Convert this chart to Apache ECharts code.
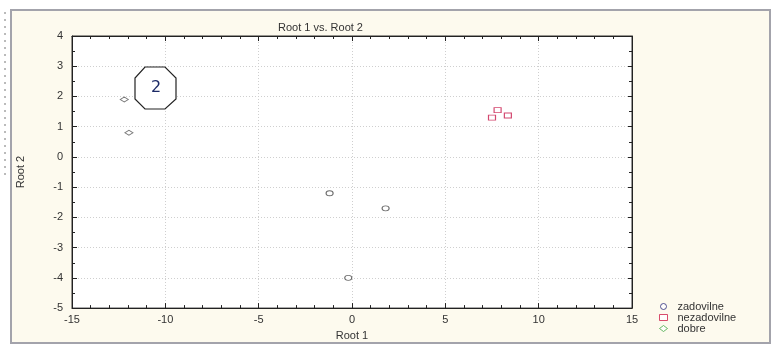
<!DOCTYPE html>
<html>
<head>
<meta charset="utf-8">
<script src="https://cdn.jsdelivr.net/npm/echarts@6/dist/echarts.min.js"></script>
<style>html,body{margin:0;padding:0;background:#fff}#c{width:776px;height:346px}</style>
</head>
<body>
<div id="c"></div>
<script>
const seriesNames = ['zadovilne', 'nezadovilne', 'dobre'];
const zadovilne = [[-1.2, -1.2], [1.8, -1.7], [-0.2, -4.0]];
const nezadovilne = [[7.5, 1.3], [7.8, 1.55], [8.35, 1.37]];
const dobre = [[-12.2, 1.9], [-11.95, 0.8]];
const xTicks = {min: -15, max: 15, interval: 5};
const yTicks = {min: -5, max: 4, interval: 1};

const FONT = 'Liberation Sans, Arial, sans-serif';
const chart = echarts.init(document.getElementById('c'), null, {renderer: 'canvas'});

const gridLine = {show: true, lineStyle: {color: '#cfcfcf', type: [1, 2], width: 1}};
const lbl = {color: '#333', fontSize: 11, fontFamily: FONT};
const axLine = {show: true, onZero: false, lineStyle: {color: '#222'}};

chart.setOption({
  backgroundColor: '#ffffff',
  animation: false,
  graphic: [
    {type: 'rect', z: -10, silent: true, shape: {x: 11, y: 10, width: 759, height: 333},
     style: {fill: '#fdfaee', stroke: '#a3a3ab', lineWidth: 2}},
    {type: 'line', z: -10, silent: true, shape: {x1: 5, y1: 12, x2: 5, y2: 180},
     style: {stroke: '#777', lineWidth: 1, lineDash: [2, 5]}},
    {type: 'polygon', z: 50, shape: {points: [[145, 67], [165, 67], [176, 78], [176, 99], [165, 109], [145, 109], [135, 99], [135, 78]]},
     style: {fill: '#ffffff', stroke: '#222', lineWidth: 1.2}},
    {type: 'text', z: 51, x: 156, y: 88,
     style: {text: '2', fill: '#1c2a66', font: '16px "DejaVu Sans", sans-serif', textAlign: 'center', textVerticalAlign: 'middle'}}
  ],
  title: {
    text: 'Root 1 vs. Root 2', left: 273, top: 17,
    textStyle: {fontSize: 11, fontWeight: 'normal', color: '#333', fontFamily: FONT}
  },
  legend: {
    orient: 'vertical', left: 654, top: 296, itemGap: 0, itemWidth: 8, itemHeight: 6,
    textStyle: {fontSize: 11, color: '#333', fontFamily: FONT, padding: [0, 0, 0, 5], lineHeight: 11},
    data: [
      {name: 'zadovilne', icon: 'circle', itemStyle: {color: '#fff', borderColor: '#2b2b7a', borderWidth: 1}},
      {name: 'nezadovilne', icon: 'rect', itemStyle: {color: '#fff', borderColor: '#d0204a', borderWidth: 1}},
      {name: 'dobre', icon: 'diamond', itemStyle: {color: '#fff', borderColor: '#44aa44', borderWidth: 1}}
    ]
  },
  grid: {left: 72, right: 144, top: 36, bottom: 37, show: true, backgroundColor: '#ffffff', borderColor: '#333', borderWidth: 1},
  xAxis: [{
    type: 'value', min: xTicks.min, max: xTicks.max, interval: xTicks.interval,
    name: 'Root 1', nameLocation: 'middle', nameGap: 19,
    nameTextStyle: {fontSize: 11, color: '#333', fontFamily: FONT},
    axisLine: axLine,
    axisTick: {show: true, inside: true, length: 5, lineStyle: {color: '#222'}},
    minorTick: {show: true, splitNumber: 5, length: 3, lineStyle: {color: '#222'}},
    axisLabel: Object.assign({margin: 6}, lbl),
    splitLine: gridLine
  }, {
    type: 'value', position: 'top', min: xTicks.min, max: xTicks.max, interval: xTicks.interval,
    axisLine: axLine,
    axisTick: {show: true, inside: true, length: 5, lineStyle: {color: '#222'}},
    minorTick: {show: true, splitNumber: 5, length: 3, lineStyle: {color: '#222'}},
    axisLabel: {show: false}, splitLine: {show: false}
  }],
  yAxis: [{
    type: 'value', min: yTicks.min, max: yTicks.max, interval: yTicks.interval,
    name: 'Root 2', nameLocation: 'middle', nameGap: 46,
    nameTextStyle: {fontSize: 11, color: '#333', fontFamily: FONT},
    axisLine: axLine,
    axisTick: {show: true, inside: true, length: 5, lineStyle: {color: '#222'}},
    minorTick: {show: true, splitNumber: 2, length: 3, lineStyle: {color: '#222'}},
    axisLabel: Object.assign({margin: 9}, lbl),
    splitLine: gridLine
  }, {
    type: 'value', position: 'right', min: yTicks.min, max: yTicks.max, interval: yTicks.interval,
    axisLine: axLine,
    axisTick: {show: true, inside: true, length: 4, lineStyle: {color: '#222'}},
    minorTick: {show: true, splitNumber: 2, length: 3, lineStyle: {color: '#222'}},
    axisLabel: {show: false}, splitLine: {show: false}
  }],
  series: [
    {name: seriesNames[0], type: 'scatter', data: zadovilne, symbol: 'circle', symbolSize: [7, 5],
     itemStyle: {color: '#fff', borderColor: '#444', borderWidth: 1}},
    {name: seriesNames[1], type: 'scatter', data: nezadovilne, symbol: 'rect', symbolSize: [7, 5],
     itemStyle: {color: '#fff', borderColor: '#c8184a', borderWidth: 1}},
    {name: seriesNames[2], type: 'scatter', data: dobre, symbol: 'diamond', symbolSize: [8, 5],
     itemStyle: {color: '#fff', borderColor: '#555', borderWidth: 1}}
  ]
});
</script>
</body>
</html>
